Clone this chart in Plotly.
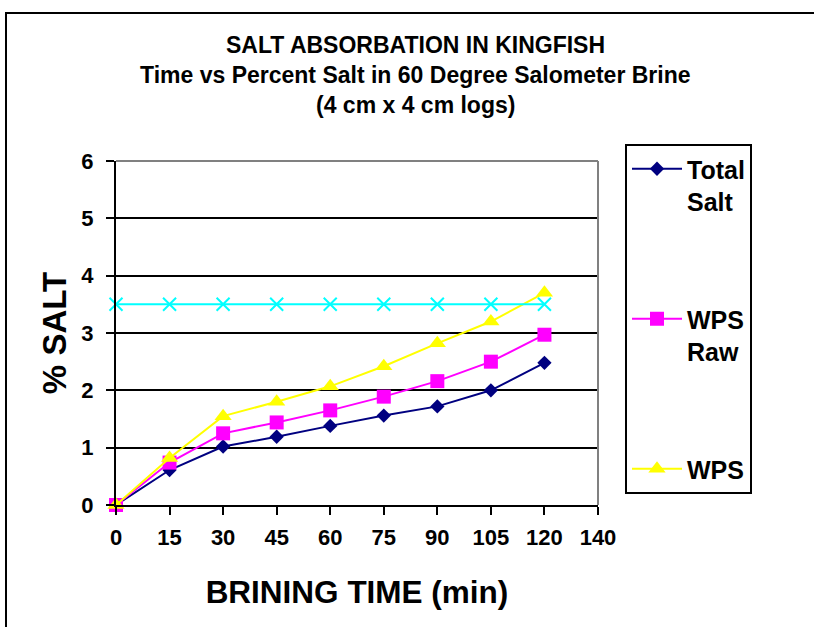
import plotly.graph_objects as go

categories = ["0", "15", "30", "45", "60", "75", "90", "105", "120", "140"]
times = ["0", "15", "30", "45", "60", "75", "90", "105", "120"]
total_salt = [0.0, 0.61, 1.02, 1.19, 1.38, 1.56, 1.72, 2.0, 2.48]
wps_raw = [0.0, 0.74, 1.25, 1.44, 1.65, 1.89, 2.16, 2.5, 2.97]
wps = [0.0, 0.82, 1.55, 1.8, 2.07, 2.42, 2.82, 3.2, 3.7]
target = [3.5, 3.5, 3.5, 3.5, 3.5, 3.5, 3.5, 3.5, 3.5]

FONT = "Liberation Sans, Arial, sans-serif"

fig = go.Figure()
fig.add_trace(go.Scatter(x=times, y=total_salt, name="Total<br>Salt", mode="lines+markers",
                         line=dict(color="#000080", width=2),
                         marker=dict(symbol="diamond", size=11, color="#000080"),
                         legendgroup="a", cliponaxis=False))
fig.add_trace(go.Scatter(x=times, y=wps_raw, name="WPS<br>Raw", mode="lines+markers",
                         line=dict(color="#FF00FF", width=2),
                         marker=dict(symbol="square", size=14, color="#FF00FF"),
                         legendgroup="b", cliponaxis=False))
fig.add_trace(go.Scatter(x=times, y=wps, name="WPS", mode="lines+markers",
                         line=dict(color="#FFFF00", width=2),
                         marker=dict(symbol="triangle-up", size=15, color="#FFFF00"),
                         legendgroup="c", cliponaxis=False))
fig.add_trace(go.Scatter(x=times, y=target, name="Target", mode="lines+markers",
                         line=dict(color="#00FFFF", width=2),
                         marker=dict(symbol="x-thin", size=13, line=dict(color="#00FFFF", width=2)),
                         showlegend=False, cliponaxis=False))

L, R, T, B = 116, 216, 161, 122
W, H = 814, 627
pw, ph = W - L - R, H - T - B

def px2x(p):
    return (p - L) / pw

def py2y(p):
    return (H - B - p) / ph

fig.update_layout(
    width=W, height=H,
    margin=dict(l=L, r=R, t=T, b=B),
    paper_bgcolor="white", plot_bgcolor="white",
    font=dict(family=FONT, color="black"),
    showlegend=True,
    legend=dict(x=px2x(625), y=py2y(144), xanchor="left", yanchor="top",
                bordercolor="black", borderwidth=2, bgcolor="white",
                font=dict(size=25, family=FONT, color="black", weight="bold"),
                tracegroupgap=82, valign="top", itemwidth=50, maxheight=600),
    xaxis=dict(type="category", categoryorder="array", categoryarray=categories,
               range=[0, 9], tickvals=categories, ticktext=categories,
               showgrid=False, showline=True, linecolor="black", linewidth=2,
               ticks="outside", ticklen=8, tickwidth=2, tickcolor="black",
               ticklabelstandoff=4,
               tickfont=dict(size=22, family=FONT, color="black", weight="bold"),
               title=dict(text="BRINING TIME (min)", standoff=32,
                          font=dict(size=31.5, family=FONT, color="black", weight="bold")),
               zeroline=False),
    yaxis=dict(range=[0, 6], dtick=1, showgrid=True, gridcolor="black", gridwidth=2,
               showline=True, linecolor="black", linewidth=2,
               ticks="outside", ticklen=8, tickwidth=2, tickcolor="black",
               ticklabelstandoff=8,
               tickfont=dict(size=22, family=FONT, color="black", weight="bold"),
               title=dict(text="% SALT", standoff=5,
                          font=dict(size=33, family=FONT, color="black", weight="bold")),
               zeroline=False),
)

# plot area border (gray, top & right)
fig.add_shape(type="line", xref="paper", yref="paper", x0=0, x1=1, y0=1, y1=1,
              line=dict(color="#808080", width=2), layer="above")
fig.add_shape(type="line", xref="paper", yref="paper", x0=1, x1=1, y0=0, y1=1,
              line=dict(color="#808080", width=2), layer="above")
# outer chart border
fig.add_shape(type="rect", xref="paper", yref="paper",
              x0=px2x(6), x1=px2x(900), y0=py2y(13), y1=py2y(700),
              line=dict(color="black", width=2), layer="below")

titles = ["SALT ABSORBATION IN KINGFISH",
          "Time vs Percent Salt in 60 Degree Salometer Brine",
          "(4 cm x 4 cm logs)"]
for i, t in enumerate(titles):
    fig.add_annotation(text=t, xref="paper", yref="paper", x=px2x(415), y=py2y(45 + 30 * i),
                       xanchor="center", yanchor="middle", showarrow=False,
                       font=dict(size=23, family=FONT, color="black", weight="bold"))

fig.write_html("out.html")
